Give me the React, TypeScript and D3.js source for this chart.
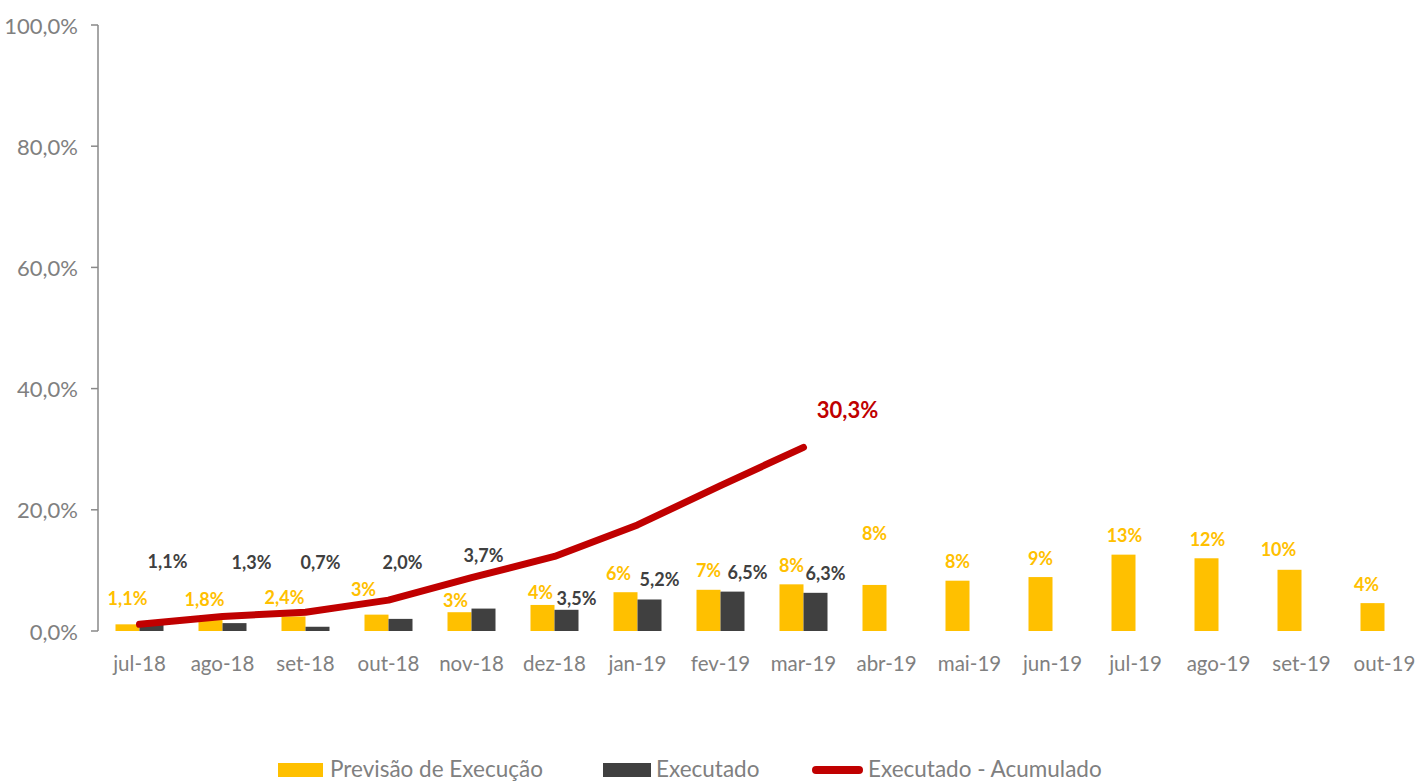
import React from "react";
import * as d3 from "d3";

const categories = ["jul-18","ago-18","set-18","out-18","nov-18","dez-18","jan-19","fev-19","mar-19","abr-19","mai-19","jun-19","jul-19","ago-19","set-19","out-19"];
const previsao = [1.1, 1.8, 2.4, 2.7, 3.1, 4.3, 6.4, 6.8, 7.7, 7.6, 8.3, 8.9, 12.6, 12.0, 10.1, 4.6];
const previsaoLabels = ["1,1%","1,8%","2,4%","3%","3%","4%","6%","7%","8%","8%","8%","9%","13%","12%","10%","4%"];
const executado = [1.1, 1.3, 0.7, 2.0, 3.7, 3.5, 5.2, 6.5, 6.3];
const executadoLabels = ["1,1%","1,3%","0,7%","2,0%","3,7%","3,5%","5,2%","6,5%","6,3%"];
const acumulado = [1.1, 2.4, 3.1, 5.1, 8.8, 12.3, 17.5, 24.0, 30.3];
const acumuladoLastLabel = "30,3%";
const yTicks = [0, 20, 40, 60, 80, 100];
const legendItems = ["Previsão de Execução", "Executado", "Executado - Acumulado"];

// label nudges (layout only) relative to default placement above each bar
const prevNudge: [number, number][] = [[0,-7],[-6,-2],[-9,0],[-13,-6],[-4,7],[-2,7],[-7,0],[0,0],[0,0],[0,-32],[0,0],[0,0],[1,0],[1,0],[-11,-1],[-6,0]];
const execNudge: [number, number][] = [[16,-43],[17,-41],[3,-45],[2,-37],[0,-34],[10,8],[10,0],[15,0],[10,0]];

const W = 1422, H = 783;
const FONT = "Lato, 'Open Sans', sans-serif";
const YELLOW = "#FFC000", DARK = "#404040", RED = "#C00000", GRAY = "#808080";

export default function App() {
  const x = d3.scaleBand<string>().domain(categories).range([98, 1426]);
  const y = d3.scaleLinear().domain([0, 100]).range([631, 25]);
  const barW = 24;
  const cx = (c: string) => (x(c) as number) + x.bandwidth() / 2;
  const line = d3.line<number>().x((_, i) => cx(categories[i])).y((d) => y(d));

  return (
    <svg width={W} height={H} style={{ position: "absolute", left: 0, top: 0, fontFamily: FONT }}>
      <rect width={W} height={H} fill="#fff" />
      {/* y axis */}
      <line x1={98} x2={98} y1={y(100)} y2={y(0)} stroke="#898989" strokeWidth={1.5} />
      {yTicks.map((t) => (
        <g key={t}>
          <line x1={91} x2={98} y1={y(t)} y2={y(t)} stroke="#898989" strokeWidth={1.5} />
          <text x={78} y={y(t)} textAnchor="end" dominantBaseline="central" fontSize={22} fill={GRAY}>
            {d3.format(".1f")(t).replace(".", ",") + "%"}
          </text>
        </g>
      ))}
      {/* x labels */}
      {categories.map((c) => (
        <text key={c} x={cx(c)} y={663} textAnchor="middle" dominantBaseline="central" fontSize={20.5} fill={GRAY}>
          {c}
        </text>
      ))}
      {/* bars */}
      {previsao.map((v, i) => (
        <rect key={"p" + i} x={cx(categories[i]) - barW} y={y(v)} width={barW} height={y(0) - y(v)} fill={YELLOW} />
      ))}
      {executado.map((v, i) => (
        <rect key={"e" + i} x={cx(categories[i])} y={y(v)} width={barW} height={y(0) - y(v)} fill={DARK} />
      ))}
      {/* line */}
      <path d={line(acumulado) || ""} fill="none" stroke={RED} strokeWidth={7} strokeLinecap="round" strokeLinejoin="round" />
      {/* labels */}
      {previsao.map((v, i) => (
        <text key={"pl" + i} x={cx(categories[i]) - barW / 2 + prevNudge[i][0]} y={y(v) - 19.5 + prevNudge[i][1]}
          textAnchor="middle" dominantBaseline="central" fontSize={18} fontWeight="bold" fill={YELLOW}>
          {previsaoLabels[i]}
        </text>
      ))}
      {executado.map((v, i) => (
        <text key={"el" + i} x={cx(categories[i]) + barW / 2 + execNudge[i][0]} y={y(v) - 20 + execNudge[i][1]}
          textAnchor="middle" dominantBaseline="central" fontSize={18} fontWeight="bold" fill={DARK}>
          {executadoLabels[i]}
        </text>
      ))}
      <text x={cx(categories[acumulado.length - 1]) + 44} y={y(acumulado[acumulado.length - 1]) - 38}
        textAnchor="middle" dominantBaseline="central" fontSize={22} fontWeight="bold" fill={RED}>
        {acumuladoLastLabel}
      </text>
      {/* legend */}
      <rect x={278} y={763} width={45} height={14} fill={YELLOW} />
      <text x={330} y={777} fontSize={22.5} fill={GRAY}>{legendItems[0]}</text>
      <rect x={603} y={763} width={48} height={14} fill={DARK} />
      <text x={656} y={777} fontSize={22.5} fill={GRAY}>{legendItems[1]}</text>
      <line x1={816} x2={859} y1={770} y2={770} stroke={RED} strokeWidth={8} strokeLinecap="round" />
      <text x={868} y={777} fontSize={22.5} fill={GRAY}>{legendItems[2]}</text>
    </svg>
  );
}
